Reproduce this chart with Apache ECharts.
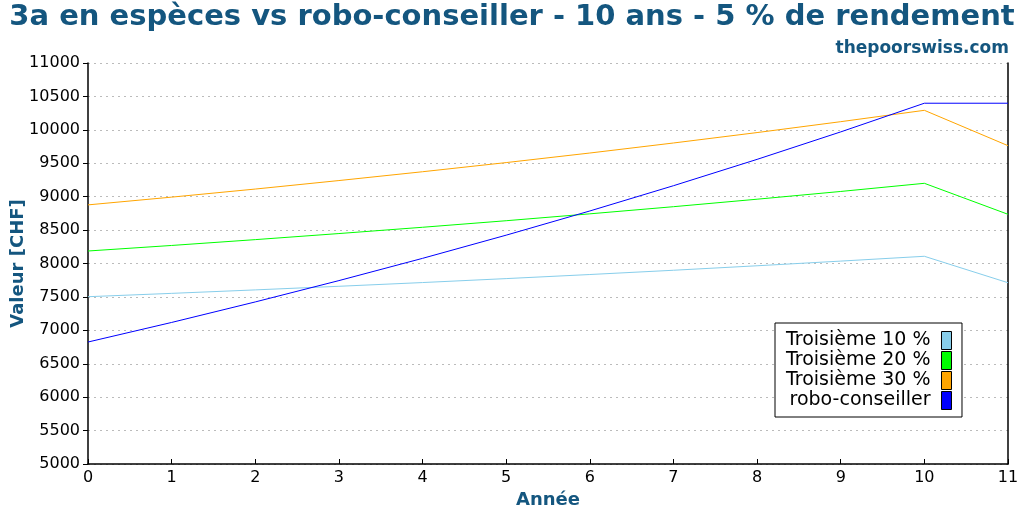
<!DOCTYPE html>
<html><head><meta charset="utf-8">
<script src="https://cdn.jsdelivr.net/npm/echarts@6/dist/echarts.min.js"></script>
<style>html,body{margin:0;padding:0;background:#fff}#c{width:1024px;height:512px}</style>
</head><body><div id="c"></div>
<script>
const years = [0,1,2,3,4,5,6,7,8,9,10,11];
const seriesNames = ['Troisième 10 %','Troisième 20 %','Troisième 30 %','robo-conseiller'];
const troisieme10 = [7503,7553,7605,7659,7715,7774,7835,7899,7966,8036,8108,7712];
const troisieme20 = [8187,8270,8357,8448,8542,8640,8743,8850,8962,9078,9200,8736];
const troisieme30 = [8877,8993,9114,9241,9373,9510,9653,9803,9959,10122,10292,9763];
const robo = [6825,7118,7425,7744,8077,8424,8786,9164,9558,9969,10398,10398];
const colors = ['#87CEEB','#00FF00','#FFA500','#0000FF'];
const titleColor = '#14567f';
const font = 'DejaVu Sans';

const chart = echarts.init(document.getElementById('c'));
const allData = [troisieme10, troisieme20, troisieme30, robo];
chart.setOption({
  animation: false,
  backgroundColor: '#fff',
  textStyle: {fontFamily: font},
  title: [
    {text: '3a en espèces vs robo-conseiller - 10 ans - 5 % de rendement', left: 'center', top: -2,
     textStyle: {fontFamily: font, fontWeight: 'bold', fontSize: 29, color: titleColor}},
    {text: 'thepoorswiss.com', right: 10, top: 35,
     textStyle: {fontFamily: font, fontWeight: 'bold', fontSize: 17, color: titleColor}}
  ],
  grid: {left: 88, right: 16, top: 63, bottom: 48, containLabel: false, outerBoundsMode: 'none'},
  legend: {
    orient: 'vertical', left: 775, top: 323, align: 'right', icon: 'rect',
    itemWidth: 10, itemHeight: 18, itemGap: 1,
    padding: [8, 10, 7, 11],
    borderColor: '#000', borderWidth: 1, backgroundColor: '#fff',
    textStyle: {fontFamily: font, fontSize: 19, lineHeight: 16, color: '#000', width: 144, align: 'right', padding: [0, 6, 0, 0]},
    data: seriesNames.map((n, i) => ({name: n, itemStyle: {color: colors[i], borderColor: '#000', borderWidth: 1}}))
  },
  xAxis: {
    type: 'value', min: 0, max: 11, interval: 1,
    name: 'Année', nameLocation: 'middle', nameGap: 27,
    nameTextStyle: {fontFamily: font, fontWeight: 'bold', fontSize: 18, color: titleColor},
    axisLine: {lineStyle: {color: '#000', width: 1.5}},
    axisTick: {inside: true, length: 5, lineStyle: {color: '#000'}},
    axisLabel: {fontFamily: font, fontSize: 16, color: '#000', margin: 6},
    splitLine: {show: false}
  },
  yAxis: [{
    type: 'value', min: 5000, max: 11000, interval: 500,
    name: 'Valeur [CHF]', nameLocation: 'middle', nameGap: 61, nameMoveOverlap: false,
    nameTextStyle: {fontFamily: font, fontWeight: 'bold', fontSize: 18, color: titleColor},
    axisLine: {show: true, lineStyle: {color: '#000', width: 1.5}},
    axisTick: {show: true, length: 5, lineStyle: {color: '#000'}},
    axisLabel: {fontFamily: font, fontSize: 16, color: '#000', margin: 8, formatter: v => String(v)},
    splitLine: {show: true, lineStyle: {color: '#bbbbbb', type: [2, 4], width: 1}}
  }, {
    type: 'value', min: 5000, max: 11000, interval: 500, position: 'right',
    axisLine: {show: true, lineStyle: {color: '#000', width: 1.5}},
    axisTick: {show: false}, axisLabel: {show: false}, splitLine: {show: false}
  }],
  series: seriesNames.map((n, i) => ({
    name: n, type: 'line', showSymbol: false, symbol: 'none',
    color: colors[i],
    lineStyle: {color: colors[i], width: 1},
    data: years.map((y, k) => [y, allData[i][k]])
  }))
});
</script></body></html>
